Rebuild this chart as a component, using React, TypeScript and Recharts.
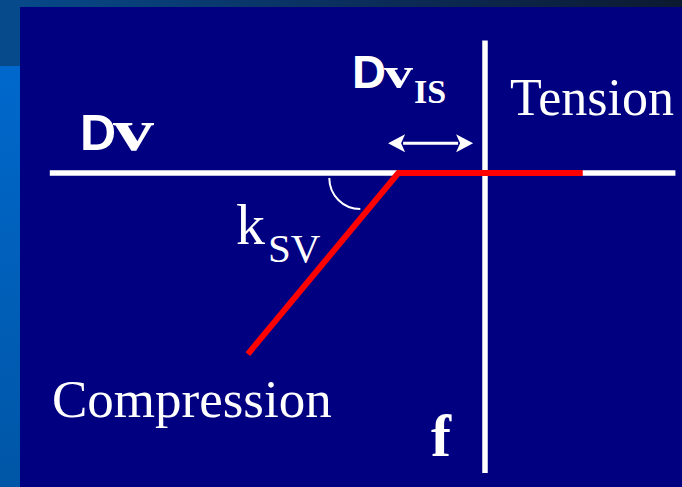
import { LineChart, Line, XAxis, YAxis, ReferenceLine, ReferenceDot } from "recharts";

// spring law: compression branch, yield corner at -Dv_IS, tension plateau
const springX = [-2.79, -1.02, 1.15];
const springY = [-2.13, 0, 0];
const data = springX.map((x, i) => ({ x, y: springY[i] }));

// extents of the two drawn axes
const dvAxisX = [-5.12, 2.24];
const fAxisY = [1.56, -3.53];

// Dv_IS double arrow
const isArrowX = [-1.14, -0.14];
const isArrowY = 0.35;

const SERIF = "'Liberation Serif', 'Times New Roman', serif";
const SANS = "'Liberation Sans', Arial, sans-serif";

const DoubleArrow = (props: any) => {
  const { x1, y1, x2 } = props;
  const head = 17;
  const half = 9;
  return (
    <g fill="#fff">
      <rect x={x1 + head - 2} y={y1 - 1.5} width={x2 - x1 - 2 * head + 4} height={3} />
      <polygon points={`${x1},${y1} ${x1 + head},${y1 - half} ${x1 + head - 4},${y1} ${x1 + head},${y1 + half}`} />
      <polygon points={`${x2},${y1} ${x2 - head},${y1 - half} ${x2 - head + 4},${y1} ${x2 - head},${y1 + half}`} />
    </g>
  );
};

const AngleArc = (props: any) => {
  const { cx, cy } = props;
  const r = 31;
  const ox = cx - 38;
  const oy = cy + 5;
  return (
    <path
      d={`M ${ox - r} ${oy} A ${r} ${r} 0 0 0 ${ox} ${oy + r}`}
      fill="none"
      stroke="#fff"
      strokeWidth={2}
    />
  );
};

export default function App() {
  return (
    <div style={{ position: "absolute", left: 0, top: 0, width: 682, height: 487, background: "#000080", overflow: "hidden" }}>
      <div style={{ position: "absolute", left: 0, top: 0, width: 682, height: 7, background: "linear-gradient(to right, #064a8c, #0b2a55 60%, #0c1a30)" }} />
      <div style={{ position: "absolute", left: 0, top: 0, width: 20, height: 66, background: "#064a8c" }} />
      <div style={{ position: "absolute", left: 0, top: 66, width: 20, height: 421, background: "linear-gradient(to bottom, #0068cc, #0056a6)" }} />
      <div style={{ position: "absolute", left: 0, top: 0 }}>
        <LineChart width={682} height={487} data={data} margin={{ top: 11.5, right: 1.5, bottom: 8, left: 17.5 }}>
          <XAxis type="number" dataKey="x" domain={[-5.5, 2.3]} hide allowDataOverflow />
          <YAxis type="number" domain={[-3.6, 1.9]} hide allowDataOverflow />
          <ReferenceLine
            segment={[{ x: dvAxisX[0], y: 0 }, { x: dvAxisX[1], y: 0 }]}
            stroke="#fff"
            strokeWidth={5.5}
          />
          <ReferenceLine
            segment={[{ x: 0, y: fAxisY[0] }, { x: 0, y: fAxisY[1] }]}
            stroke="#fff"
            strokeWidth={5.5}
          />
          <ReferenceLine
            segment={[{ x: isArrowX[0], y: isArrowY }, { x: isArrowX[1], y: isArrowY }]}
            shape={DoubleArrow}
          />
          <ReferenceDot x={springX[1]} y={springY[1]} r={0} shape={AngleArc} />
          <Line
            type="linear"
            dataKey="y"
            stroke="#ff0000"
            strokeWidth={6}
            strokeLinejoin="miter"
            dot={false}
            activeDot={false}
            isAnimationActive={false}
          />
        </LineChart>
      </div>
      <svg width={682} height={487} style={{ position: "absolute", left: 0, top: 0, pointerEvents: "none" }}>
        <g fill="#fff">
          <text x={80} y={150} fontFamily={SANS} fontWeight="bold" fontSize={50}>D</text>
          <text x={113} y={150} fontFamily={SERIF} fontWeight="bold" fontSize={60} textLength={41} lengthAdjust="spacingAndGlyphs">v</text>

          <text x={352} y={88} fontFamily={SANS} fontWeight="bold" fontSize={47}>D</text>
          <text x={384} y={88} fontFamily={SERIF} fontWeight="bold" fontSize={44} textLength={29} lengthAdjust="spacingAndGlyphs">v</text>
          <text x={414} y={103} fontFamily={SERIF} fontWeight="bold" fontSize={34}>IS</text>

          <text x={510} y={115} fontFamily={SERIF} fontSize={52}>Tension</text>

          <text x={236} y={244} fontFamily={SERIF} fontSize={58}>k</text>
          <text x={268} y={262} fontFamily={SERIF} fontSize={41}>SV</text>

          <text x={52} y={417} fontFamily={SERIF} fontSize={53}>Compression</text>

          <text x={431} y={456} fontFamily={SERIF} fontWeight="bold" fontSize={60}>f</text>
        </g>
      </svg>
    </div>
  );
}
